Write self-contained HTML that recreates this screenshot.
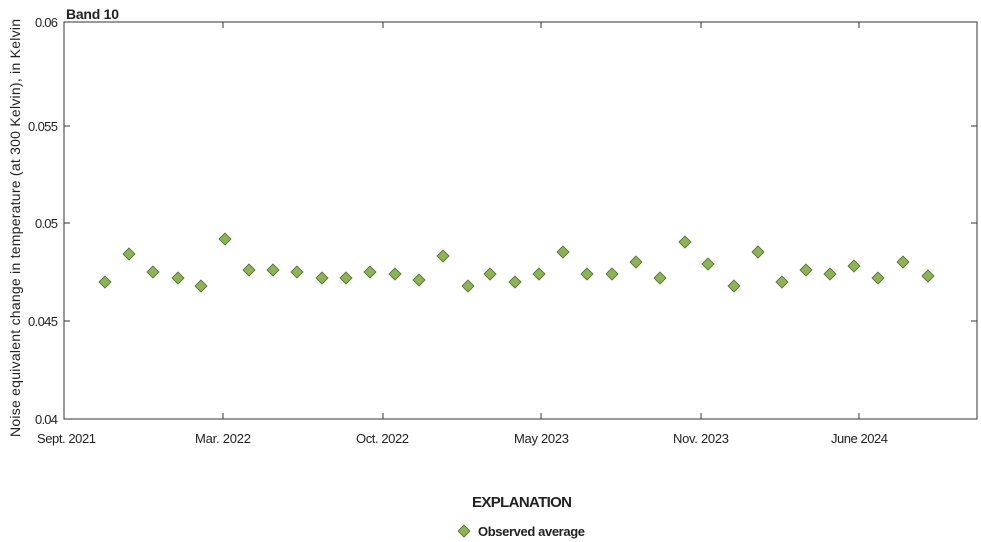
<!DOCTYPE html>
<html><head><meta charset="utf-8"><style>
body{margin:0;background:#fff;}
svg{display:block;font-family:"Liberation Sans",sans-serif;}
</style></head><body>
<svg width="981" height="542" viewBox="0 0 981 542">
<rect x="64" y="22" width="913" height="397" fill="none" stroke="#333" stroke-width="1"/>
<g stroke="#333" stroke-width="1">
<line x1="64" y1="126" x2="70" y2="126"/><line x1="64" y1="223" x2="70" y2="223"/><line x1="64" y1="321" x2="70" y2="321"/>
<line x1="977" y1="126" x2="971" y2="126"/><line x1="977" y1="223" x2="971" y2="223"/><line x1="977" y1="321" x2="971" y2="321"/>
<line x1="223" y1="419" x2="223" y2="413"/><line x1="383" y1="419" x2="383" y2="413"/><line x1="541" y1="419" x2="541" y2="413"/><line x1="701" y1="419" x2="701" y2="413"/><line x1="859" y1="419" x2="859" y2="413"/>
<line x1="223" y1="22" x2="223" y2="28"/><line x1="383" y1="22" x2="383" y2="28"/><line x1="541" y1="22" x2="541" y2="28"/><line x1="701" y1="22" x2="701" y2="28"/><line x1="859" y1="22" x2="859" y2="28"/>
</g>
<g font-size="13" fill="#222" text-anchor="end">
<text x="58" y="27" textLength="23">0.06</text><text x="58" y="131" textLength="30">0.055</text><text x="58" y="228" textLength="23">0.05</text><text x="58" y="326" textLength="30">0.045</text><text x="58" y="424" textLength="23">0.04</text>
</g>
<g font-size="13" fill="#222">
<text x="37" y="443" textLength="59">Sept. 2021</text><text x="195" y="443" textLength="56">Mar. 2022</text><text x="356" y="443" textLength="53">Oct. 2022</text><text x="514" y="443" textLength="55">May 2023</text><text x="673" y="443" textLength="56">Nov. 2023</text><text x="831" y="443" textLength="57">June 2024</text>
</g>
<text x="66" y="19" font-size="14" font-weight="bold" fill="#222" textLength="53">Band 10</text>
<text transform="translate(20,228) rotate(-90)" font-size="14" fill="#222" text-anchor="middle" textLength="418">Noise equivalent change in temperature (at 300 Kelvin), in Kelvin</text>
<g fill="#8db356" stroke="#4a6a2a" stroke-width="0.8">
<path d="M105 276l6 6-6 6-6-6z"/><path d="M129 248l6 6-6 6-6-6z"/><path d="M153 266l6 6-6 6-6-6z"/><path d="M178 272l6 6-6 6-6-6z"/><path d="M201 280l6 6-6 6-6-6z"/><path d="M225 233l6 6-6 6-6-6z"/><path d="M249 264l6 6-6 6-6-6z"/><path d="M273 264l6 6-6 6-6-6z"/><path d="M297 266l6 6-6 6-6-6z"/><path d="M322 272l6 6-6 6-6-6z"/><path d="M346 272l6 6-6 6-6-6z"/><path d="M370 266l6 6-6 6-6-6z"/><path d="M395 268l6 6-6 6-6-6z"/><path d="M419 274l6 6-6 6-6-6z"/><path d="M443 250l6 6-6 6-6-6z"/><path d="M468 280l6 6-6 6-6-6z"/><path d="M490 268l6 6-6 6-6-6z"/><path d="M515 276l6 6-6 6-6-6z"/><path d="M539 268l6 6-6 6-6-6z"/><path d="M563 246l6 6-6 6-6-6z"/><path d="M587 268l6 6-6 6-6-6z"/><path d="M612 268l6 6-6 6-6-6z"/><path d="M636 256l6 6-6 6-6-6z"/><path d="M660 272l6 6-6 6-6-6z"/><path d="M685 236l6 6-6 6-6-6z"/><path d="M708 258l6 6-6 6-6-6z"/><path d="M734 280l6 6-6 6-6-6z"/><path d="M758 246l6 6-6 6-6-6z"/><path d="M782 276l6 6-6 6-6-6z"/><path d="M806 264l6 6-6 6-6-6z"/><path d="M830 268l6 6-6 6-6-6z"/><path d="M854 260l6 6-6 6-6-6z"/><path d="M878 272l6 6-6 6-6-6z"/><path d="M903 256l6 6-6 6-6-6z"/><path d="M928 270l6 6-6 6-6-6z"/>
<path d="M464 525l6 6-6 6-6-6z"/>
</g>
<text x="472" y="507" font-size="15" font-weight="bold" fill="#222" textLength="100">EXPLANATION</text>
<text x="478" y="536" font-size="13" font-weight="bold" fill="#222" textLength="107">Observed average</text>
</svg>
</body></html>
